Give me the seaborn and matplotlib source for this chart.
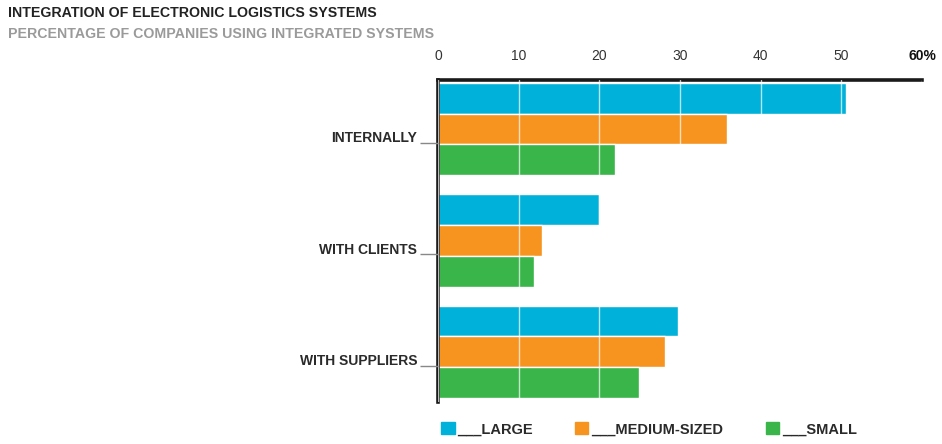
import numpy as np
import pandas as pd
import matplotlib
matplotlib.use("Agg")
import matplotlib.pyplot as plt
import matplotlib.transforms as mtransforms
import seaborn as sns

# values
categories = ['INTERNALLY', 'WITH CLIENTS', 'WITH SUPPLIERS']
sizes = ['LARGE', 'MEDIUM-SIZED', 'SMALL']
large = [50.6, 19.9, 29.7]
medium = [35.8, 12.9, 28.1]
small = [22.0, 11.9, 24.9]
x_ticks = [0, 10, 20, 30, 40, 50, 60]
x_labels = ['0', '10', '20', '30', '40', '50', '60%']

colors = ['#00B1D9', '#F7941F', '#39B54A']

df = pd.DataFrame({
    'Category': categories * 3,
    'Size': [s for s in sizes for _ in categories],
    'Value': large + medium + small,
})

sns.set_style('white')
plt.rcParams['font.family'] = ['Liberation Sans', 'DejaVu Sans']

fig = plt.figure(figsize=(9.42, 4.44), dpi=100)
ax = fig.add_axes([438 / 942, 1 - 402 / 444, (922 - 438) / 942, (402 - 80) / 444])

sns.barplot(data=df, y='Category', x='Value', hue='Size', orient='h',
            palette=colors, width=0.83, saturation=1, ax=ax, legend=False)

ax.set_xlim(0, 60)
ax.set_ylim(2.45, -0.44)
ax.set_xlabel('')
ax.set_ylabel('')

# white grid lines over the bars
ax.set_axisbelow(False)
ax.xaxis.grid(True, color='white', linewidth=1, alpha=0.7)
ax.yaxis.grid(False)

# top axis with ticks
ax.xaxis.tick_top()
ax.set_xticks(x_ticks)
ax.set_xticklabels(x_labels, fontsize=10, color='#333333')
ax.tick_params(axis='x', length=0, pad=12)
ax.get_xticklabels()[-1].set_fontweight('bold')
ax.get_xticklabels()[-1].set_color('#111111')

# category labels with a short grey leader line
ax.set_yticks(np.arange(len(categories)) + 0.125)
ax.set_yticklabels(categories, fontsize=10, fontweight='bold', color='#2a2a2a')
ax.tick_params(axis='y', length=13, width=1, color='#888888', pad=2, left=True)
offset = mtransforms.ScaledTranslation(0, 6 / 100, fig.dpi_scale_trans)
for lab in ax.get_yticklabels():
    lab.set_transform(lab.get_transform() + offset)

for side in ['right', 'bottom']:
    ax.spines[side].set_visible(False)
for side in ['top', 'left']:
    ax.spines[side].set_visible(True)
    ax.spines[side].set_linewidth(2.6)
    ax.spines[side].set_color('#1a1a1a')

# legend
handles = [plt.Rectangle((0, 0), 1, 1, color=c) for c in colors]
ax.legend(handles, ['___' + s for s in sizes], loc='upper left',
          bbox_to_anchor=(-0.005, -0.045), ncol=3, frameon=False,
          handlelength=0.9, handleheight=0.9, handletextpad=0.2,
          columnspacing=2.9, prop={'weight': 'bold', 'size': 10.5},
          labelcolor='#2a2a2a', borderaxespad=0)

fig.text(8 / 942, 1 - 13 / 444, 'INTEGRATION OF ELECTRONIC LOGISTICS SYSTEMS',
         fontsize=10.2, fontweight='bold', color='#222222', va='center')
fig.text(8 / 942, 1 - 34 / 444, 'PERCENTAGE OF COMPANIES USING INTEGRATED SYSTEMS',
         fontsize=10.2, fontweight='bold', color='#9a9a9a', va='center')

fig.savefig('out.png', dpi=100)
